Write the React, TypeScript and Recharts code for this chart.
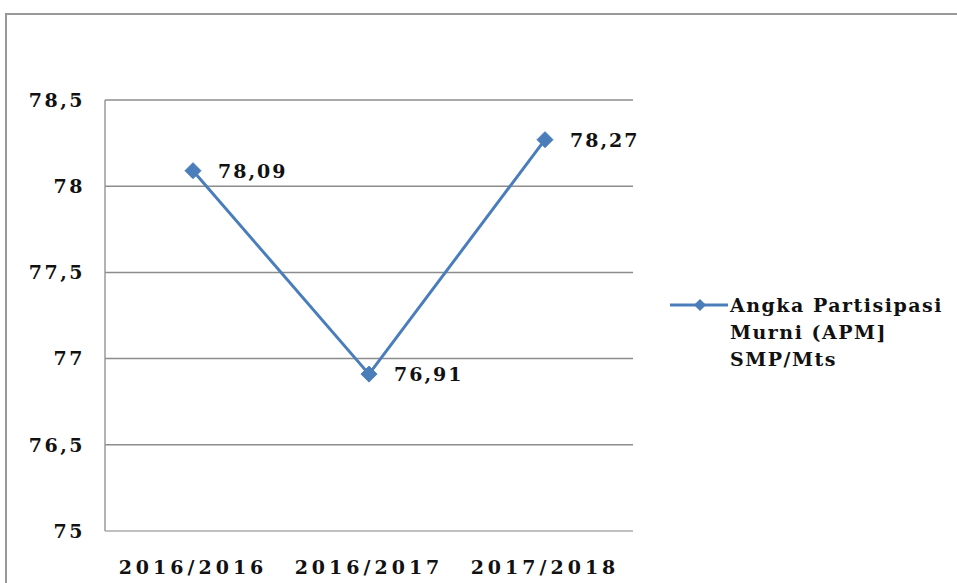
import { CartesianGrid, LabelList, Line, LineChart, XAxis, YAxis } from "recharts";

const years = ["2016/2016", "2016/2017", "2017/2018"];
const apm = [78.09, 76.91, 78.27];
const apmLabels = ["78,09", "76,91", "78,27"];
const yTicks = [76, 76.5, 77, 77.5, 78, 78.5];
const yTickLabels = ["75", "76,5", "77", "77,5", "78", "78,5"];
const seriesName = ["Angka Partisipasi", "Murni (APM]", "SMP/Mts"];

const data = years.map((year, i) => ({ year, apm: apm[i], label: apmLabels[i] }));

const font = "'DejaVu Serif', serif";
const blue = "#4a7ebb";

const Diamond = (props: any) => {
  const { cx, cy } = props;
  if (cx == null || cy == null) return null;
  const r = 8;
  return (
    <path
      d={`M${cx},${cy - r} L${cx + r},${cy} L${cx},${cy + r} L${cx - r},${cy} Z`}
      fill={blue}
      stroke={blue}
    />
  );
};

const PointLabel = (props: any) => {
  const { x, y, value } = props;
  return (
    <text x={x + 25} y={y} dy={7} fill="#111" fontFamily={font} fontWeight="bold" fontSize={19} letterSpacing={2}>
      {value}
    </text>
  );
};

export default function App() {
  return (
    <div style={{ position: "fixed", left: 0, top: 0, width: 957, height: 583, background: "#fff", overflow: "hidden" }}>
      <div
        style={{
          position: "absolute",
          left: 5,
          top: 13,
          width: 970,
          height: 600,
          borderLeft: "2px solid #999",
          borderTop: "2px solid #999",
        }}
      />
      <LineChart
        width={957}
        height={583}
        data={data}
        margin={{ top: 100, right: 324, bottom: 0, left: 10 }}
        style={{ position: "absolute", left: 0, top: 0 }}
      >
        <CartesianGrid vertical={false} stroke="#8c8c8c" strokeWidth={1.5} />
        <XAxis
          dataKey="year"
          height={52}
          padding={{ left: 88, right: 88 }}
          axisLine={{ stroke: "#c8c8c8", strokeWidth: 1.5 }}
          tickLine={false}
          tickMargin={24}
          tick={{ fill: "#111", fontFamily: font, fontWeight: "bold", fontSize: 19, letterSpacing: 4 }}
        />
        <YAxis
          width={95}
          domain={[76, 78.5]}
          ticks={yTicks}
          tickFormatter={(v: number) => yTickLabels[yTicks.indexOf(v)]}
          axisLine={{ stroke: "#9a9a9a", strokeWidth: 1.5 }}
          tickLine={false}
          tickSize={0}
          tickMargin={20}
          tick={{ fill: "#111", fontFamily: font, fontWeight: "bold", fontSize: 19, letterSpacing: 2.5 }}
        />
        <Line
          dataKey="apm"
          stroke={blue}
          strokeWidth={3}
          dot={<Diamond />}
          activeDot={false}
          isAnimationActive={false}
        >
          <LabelList dataKey="label" content={<PointLabel />} />
        </Line>
      </LineChart>
      <div style={{ position: "absolute", left: 670, top: 292, display: "flex", alignItems: "flex-start" }}>
        <svg width={58} height={26}>
          <line x1={0} y1={13} x2={58} y2={13} stroke={blue} strokeWidth={3} />
          <path d="M30,7 L36,13 L30,19 L24,13 Z" fill={blue} />
        </svg>
        <div style={{ marginLeft: 2, fontFamily: font, fontWeight: "bold", fontSize: 19, letterSpacing: 1.5, lineHeight: "27px", color: "#111" }}>
          {seriesName.map((s) => (
            <div key={s}>{s}</div>
          ))}
        </div>
      </div>
    </div>
  );
}
